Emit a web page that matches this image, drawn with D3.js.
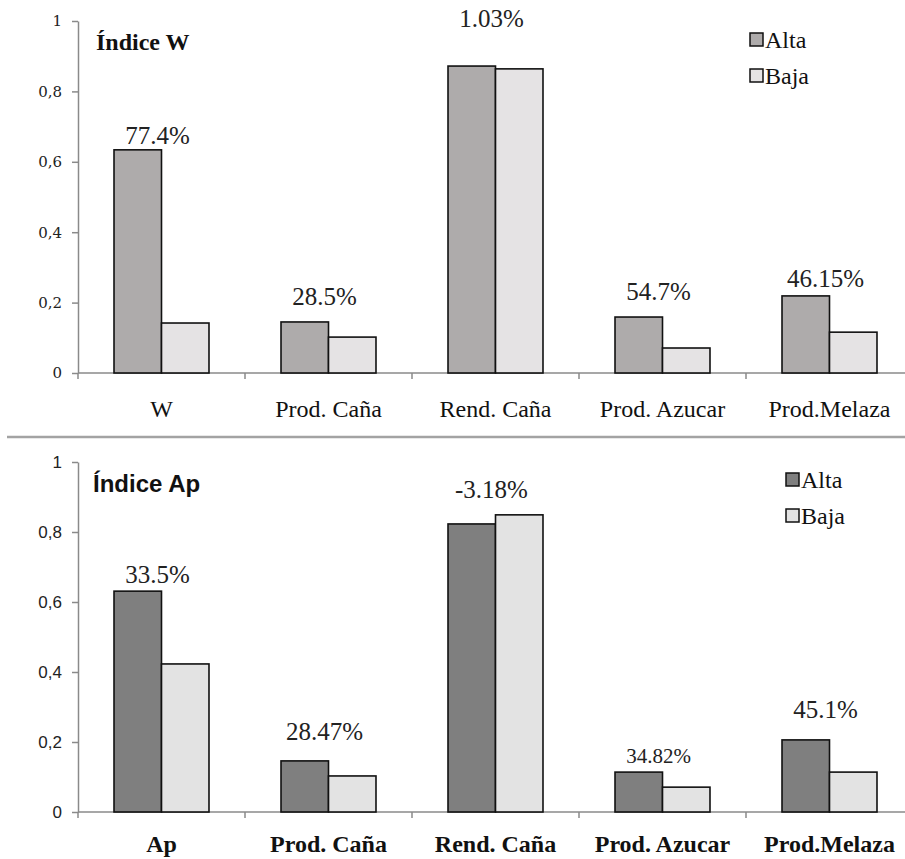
<!DOCTYPE html>
<html>
<head>
<meta charset="utf-8">
<script src="https://cdn.jsdelivr.net/npm/d3@7/dist/d3.min.js"></script>
<style>
  html, body { margin: 0; padding: 0; background: #fff; }
  svg { display: block; }
  .serif { font-family: "Liberation Serif", "Times New Roman", Times, serif; }
  .sans { font-family: "Liberation Sans", Arial, sans-serif; }
  .dserif { font-family: "DejaVu Serif", serif; }
</style>
</head>
<body>
<svg id="chart" width="905" height="859"></svg>
<script>
// ---- Data ----
const seriesNames = ["Alta", "Baja"];
const yTicks = [0, 0.2, 0.4, 0.6, 0.8, 1];

const categoriesW = ["W", "Prod. Caña", "Rend. Caña", "Prod. Azucar", "Prod.Melaza"];
const altaW = [0.634, 0.145, 0.872, 0.159, 0.219];
const bajaW = [0.142, 0.102, 0.864, 0.071, 0.116];
const labelsW = ["77.4%", "28.5%", "1.03%", "54.7%", "46.15%"];
const labelAtW = [0.651, 0.193, 0.983, 0.207, 0.244];   // label anchor, in data units

const categoriesAp = ["Ap", "Prod. Caña", "Rend. Caña", "Prod. Azucar", "Prod.Melaza"];
const altaAp = [0.631, 0.146, 0.823, 0.114, 0.206];
const bajaAp = [0.423, 0.103, 0.849, 0.071, 0.114];
const labelsAp = ["33.5%", "28.47%", "-3.18%", "34.82%", "45.1%"];
const labelAtAp = [0.654, 0.206, 0.897, 0.14, 0.269];

// ---- Drawing ----
const svg = d3.select("#chart");

function drawPanel(opt) {
  const g = svg.append("g");
  const x = d3.scaleBand().domain(opt.categories).range([78, 913]).padding(0);
  const x1 = d3.scaleBand().domain(seriesNames)
    .range([x.bandwidth() * 0.2156, x.bandwidth() * (1 - 0.2156)]).padding(0);
  const y = d3.scaleLinear().domain([0, 1]).range([opt.y0, opt.y1]);
  const fills = { Alta: opt.altaFill, Baja: opt.bajaFill };

  // y axis
  const yAxis = d3.axisLeft(y).tickValues(yTicks).tickSize(6).tickSizeOuter(0).tickPadding(10)
    .tickFormat(d => d === 0 ? "0" : d === 1 ? "1" : d3.format(".1f")(d).replace(".", ","));
  const ya = g.append("g").attr("transform", "translate(78,0)").call(yAxis);
  ya.attr("font-family", null).attr("font-size", null);
  ya.selectAll("path, line").attr("stroke", "#8a8a8a").attr("stroke-width", 1.5);
  ya.selectAll("text").attr("class", opt.tickClass).style("font-size", opt.tickSize + "px").attr("fill", "#222");

  // x axis line and boundary ticks
  g.append("line").attr("x1", 78).attr("x2", 913).attr("y1", y(0)).attr("y2", y(0))
    .attr("stroke", "#8a8a8a").attr("stroke-width", 1.5);
  const bounds = opt.categories.map(c => x(c)).concat([x.range()[1]]);
  g.selectAll(".bt").data(bounds).join("line")
    .attr("x1", d => d).attr("x2", d => d).attr("y1", y(0)).attr("y2", y(0) + 6)
    .attr("stroke", "#8a8a8a").attr("stroke-width", 1.5);

  // x labels
  g.selectAll(".xl").data(opt.categories).join("text")
    .attr("class", "serif")
    .attr("x", d => x(d) + x.bandwidth() / 2).attr("y", y(0) + opt.xLabelDy)
    .attr("text-anchor", "middle").style("font-size", "24px")
    .style("font-weight", opt.xBold ? "bold" : "normal").attr("fill", "#111").text(d => d);

  // bars
  const rows = opt.categories.map((c, i) => ({ c, Alta: opt.alta[i], Baja: opt.baja[i] }));
  const grp = g.selectAll(".grp").data(rows).join("g").attr("transform", d => `translate(${x(d.c)},0)`);
  grp.selectAll("rect").data(d => seriesNames.map(s => ({ s, v: d[s] }))).join("rect")
    .attr("x", d => x1(d.s)).attr("width", x1.bandwidth())
    .attr("y", d => y(d.v)).attr("height", d => y(0) - y(d.v))
    .attr("fill", d => fills[d.s]).attr("stroke", "#111").attr("stroke-width", 1.6);

  // value labels
  g.selectAll(".vl").data(opt.labels).join("text")
    .attr("class", "serif")
    .attr("x", (d, i) => x(opt.categories[i]) + x.bandwidth() / 2 - 4)
    .attr("y", (d, i) => y(opt.labelAt[i]))
    .attr("text-anchor", "middle")
    .style("font-size", d => (d === "34.82%" ? 21 : 25) + "px").attr("fill", "#222").text(d => d);

  // title
  g.append("text").attr("class", opt.titleClass).attr("x", opt.titleX).attr("y", opt.titleY)
    .style("font-weight", "bold").style("font-size", "24px")
    .attr("fill", "#111").text(opt.title);

  // legend
  const lg = g.append("g").attr("transform", `translate(${opt.legX},${opt.legY})`);
  seriesNames.forEach((s, i) => {
    lg.append("rect").attr("x", 0).attr("y", i * 36).attr("width", 13).attr("height", 13)
      .attr("fill", fills[s]).attr("stroke", "#111").attr("stroke-width", 1.5);
    lg.append("text").attr("class", "serif").attr("x", 15).attr("y", i * 36 + 15)
      .style("font-size", "24px").attr("fill", "#111").text(s);
  });
}

drawPanel({
  categories: categoriesW, alta: altaW, baja: bajaW, labels: labelsW, labelAt: labelAtW,
  y0: 373, y1: 21, altaFill: "#aeabab", bajaFill: "#e5e3e4",
  tickClass: "dserif", tickSize: 15, xBold: false, xLabelDy: 44,
  title: "Índice W", titleClass: "serif", titleX: 96, titleY: 50,
  legX: 750, legY: 33
});

// separator
svg.append("line").attr("x1", 7).attr("x2", 905).attr("y1", 437).attr("y2", 437)
  .attr("stroke", "#a3a3a3").attr("stroke-width", 2.5);

drawPanel({
  categories: categoriesAp, alta: altaAp, baja: bajaAp, labels: labelsAp, labelAt: labelAtAp,
  y0: 812, y1: 462, altaFill: "#7f7f7f", bajaFill: "#e3e3e3",
  tickClass: "sans", tickSize: 17, xBold: true, xLabelDy: 40,
  title: "Índice Ap", titleClass: "sans", titleX: 93, titleY: 492,
  legX: 786, legY: 473
});
</script>
</body>
</html>
